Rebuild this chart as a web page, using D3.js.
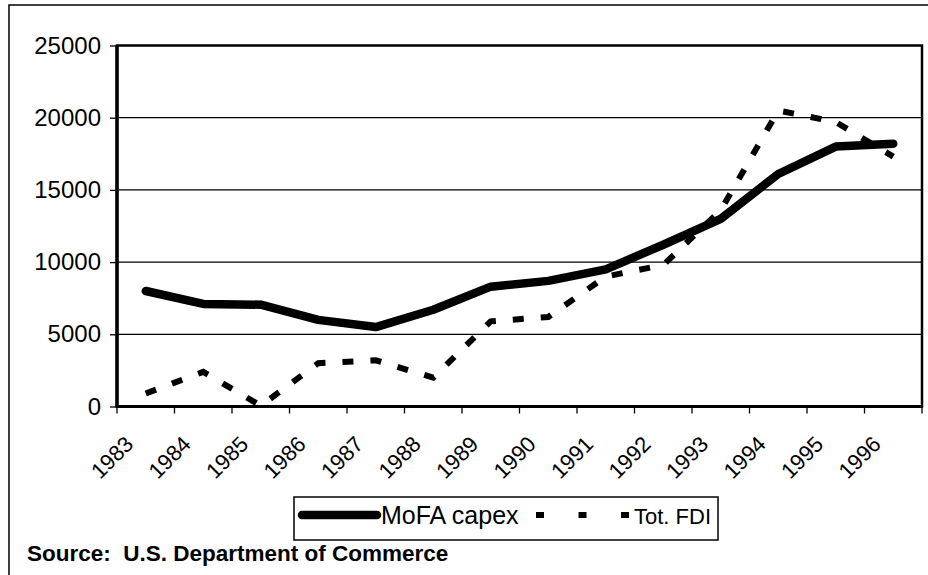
<!DOCTYPE html>
<html>
<head>
<meta charset="utf-8">
<script src="https://cdn.jsdelivr.net/npm/d3@7"></script>
<style>
    body { margin: 0; background: #fff; }
    svg { display: block; font-family: "Liberation Sans", Arial, sans-serif; }
</style>
</head>
<body>
<div id="chart-container"></div>
<script>

var years = ['1983', '1984', '1985', '1986', '1987', '1988', '1989',
             '1990', '1991', '1992', '1993', '1994', '1995', '1996'];
var mofaCapex = [8000, 7100, 7050, 6000, 5500, 6700, 8300,
                 8700, 9500, 11200, 13000, 16100, 18000, 18200];
var totFdi = [900, 2400, 50, 3000, 3200, 2000, 5900,
              6200, 9000, 9800, 13600, 20500, 19700, 17300];
var yTicks = [0, 5000, 10000, 15000, 20000, 25000];
var seriesNames = ['MoFA capex', 'Tot. FDI'];
var sourceNote = 'Source:  U.S. Department of Commerce';

var _width = 928,
    _height = 575,
    _plotLeft = 117,
    _plotRight = 922,
    _plotTop = 45.5,
    _plotBottom = 406.5,
    _fontSize = 24;

var _svg = d3.select('#chart-container').append('svg')
    .attr('width', _width)
    .attr('height', _height);

// OUTER FRAME
// ----------------------------------------------------------------
_svg.append('rect')
    .attr('x', 9).attr('y', 5)
    .attr('width', _width + 20).attr('height', _height + 20)
    .attr('fill', 'none')
    .attr('stroke', '#000')
    .attr('stroke-width', 1.5);

// SCALES
// ----------------------------------------------------------------
var x = d3.scaleBand()
    .domain(years)
    .range([_plotLeft, _plotRight]);

var y = d3.scaleLinear()
    .domain([0, 25000])
    .range([_plotBottom, _plotTop]);

var cx = function (d, i) { return x(years[i]) + x.bandwidth() / 2; };

// GRID + Y AXIS
// ----------------------------------------------------------------
var yAxis = _svg.append('g')
    .attr('transform', 'translate(' + _plotLeft + ',0)')
    .call(d3.axisLeft(y).tickValues(yTicks).tickSize(7).tickPadding(9).tickFormat(d3.format('d')));
yAxis.select('.domain').remove();
yAxis.selectAll('line').attr('stroke', '#000').attr('stroke-width', 1.3);
yAxis.selectAll('text')
    .attr('font-size', _fontSize)
    .attr('fill', '#000')
    .attr('font-family', '"Liberation Sans", Arial, sans-serif');

_svg.append('g').selectAll('line')
    .data(yTicks.slice(1, -1))
    .enter().append('line')
    .attr('x1', _plotLeft).attr('x2', _plotRight)
    .attr('y1', function (d) { return y(d); })
    .attr('y2', function (d) { return y(d); })
    .attr('stroke', '#000')
    .attr('stroke-width', 1.2);

// PLOT BORDER
// ----------------------------------------------------------------
_svg.append('rect')
    .attr('x', _plotLeft).attr('y', _plotTop)
    .attr('width', _plotRight - _plotLeft)
    .attr('height', _plotBottom - _plotTop)
    .attr('fill', 'none')
    .attr('stroke', '#000')
    .attr('stroke-width', 2.5);

// X AXIS
// ----------------------------------------------------------------
var xAxis = _svg.append('g')
    .attr('transform', 'translate(0,' + _plotBottom + ')');
xAxis.append('line')
    .attr('x1', _plotLeft).attr('x2', _plotRight)
    .attr('stroke', '#000').attr('stroke-width', 3);
xAxis.selectAll('.tick')
    .data(years.concat(['end']))
    .enter().append('line')
    .attr('x1', function (d, i) { return _plotLeft + i * x.step(); })
    .attr('x2', function (d, i) { return _plotLeft + i * x.step(); })
    .attr('y1', 0).attr('y2', 7)
    .attr('stroke', '#000').attr('stroke-width', 1.3);
xAxis.selectAll('text')
    .data(years)
    .enter().append('text')
    .attr('transform', function (d, i) {
        return 'translate(' + (cx(d, i) - 11) + ',' + 39 + ') rotate(-45)';
    })
    .attr('text-anchor', 'end')
    .attr('font-size', 22)
    .text(function (d) { return d; });

// LEFT AXIS LINE
// ----------------------------------------------------------------
_svg.append('line')
    .attr('x1', _plotLeft).attr('x2', _plotLeft)
    .attr('y1', _plotTop).attr('y2', _plotBottom + 1)
    .attr('stroke', '#000').attr('stroke-width', 3.5);

// SERIES
// ----------------------------------------------------------------
var line = d3.line()
    .x(cx)
    .y(function (d) { return y(d); });

_svg.append('path')
    .datum(totFdi)
    .attr('d', line)
    .attr('fill', 'none')
    .attr('stroke', '#000')
    .attr('stroke-width', 6)
    .attr('stroke-dasharray', '11,17');

_svg.append('path')
    .datum(mofaCapex)
    .attr('d', line)
    .attr('fill', 'none')
    .attr('stroke', '#000')
    .attr('stroke-width', 8.5)
    .attr('stroke-linecap', 'round')
    .attr('stroke-linejoin', 'round');

// LEGEND
// ----------------------------------------------------------------
var _gLegend = _svg.append('g');
_gLegend.append('rect')
    .attr('x', 294).attr('y', 497)
    .attr('width', 424).attr('height', 43)
    .attr('fill', '#fff')
    .attr('stroke', '#000')
    .attr('stroke-width', 1.5);
_gLegend.append('line')
    .attr('x1', 302).attr('x2', 377)
    .attr('y1', 515).attr('y2', 515)
    .attr('stroke', '#000').attr('stroke-width', 8.5)
    .attr('stroke-linecap', 'round');
_gLegend.append('text')
    .attr('x', 381).attr('y', 524)
    .attr('font-size', 25)
    .text(seriesNames[0]);
_gLegend.append('line')
    .attr('x1', 536).attr('x2', 629)
    .attr('y1', 515).attr('y2', 515)
    .attr('stroke', '#000').attr('stroke-width', 6)
    .attr('stroke-dasharray', '8,34.5');
_gLegend.append('text')
    .attr('x', 634).attr('y', 524)
    .attr('font-size', 22)
    .text(seriesNames[1]);

// SOURCE
// ----------------------------------------------------------------
_svg.append('text')
    .attr('x', 27).attr('y', 561)
    .attr('font-size', 22.5)
    .attr('font-weight', 'bold')
    .attr('xml:space', 'preserve')
    .style('white-space', 'pre')
    .text(sourceNote);

</script>
</body>
</html>
